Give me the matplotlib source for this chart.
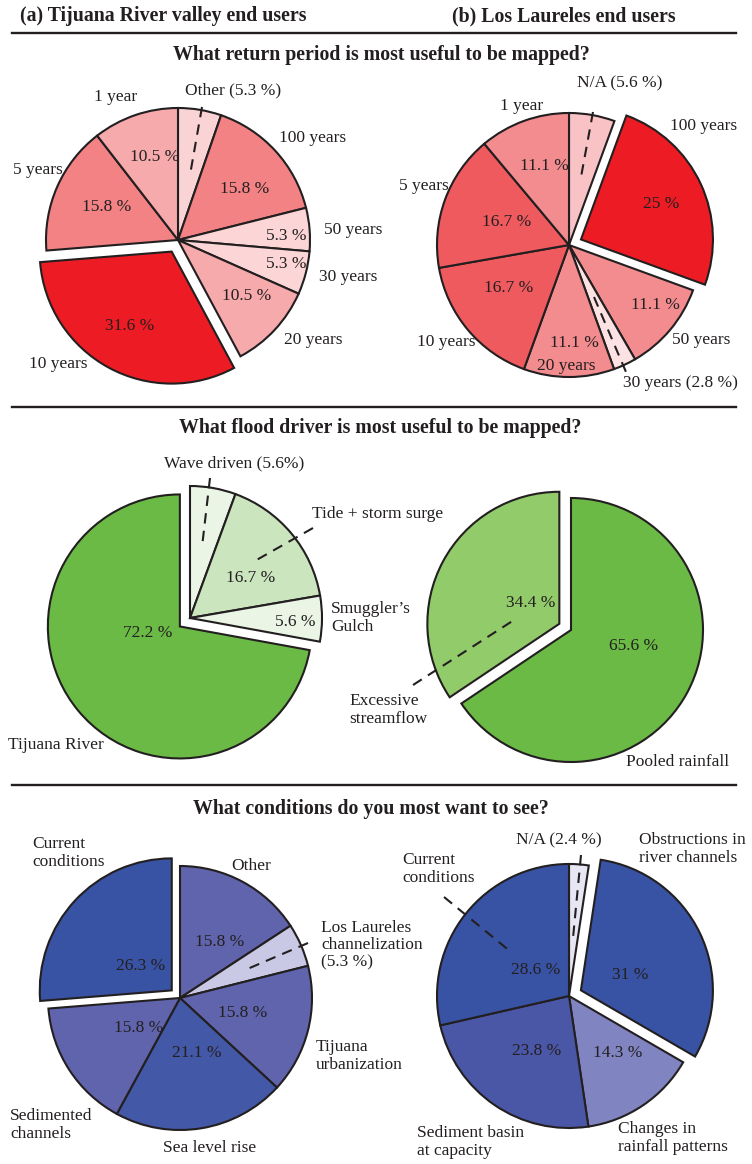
import matplotlib.pyplot as plt

H = 1164
R = 132
plt.rcParams['font.family'] = ['Liberation Serif', 'DejaVu Serif']
EDGE = '#231f20'

# ---- return period, (a) Tijuana River valley
rp_a_cats = ['Other', '100 years', '50 years', '30 years', '20 years', '10 years', '5 years', '1 year']
rp_a_vals = [5.3, 15.8, 5.3, 5.3, 10.5, 31.6, 15.8, 10.5]
rp_a_cols = ['#fad4d5', '#f28284', '#fcd6d7', '#fcd6d7', '#f6aaac', '#ed1c24', '#f28284', '#f6aaac']
rp_a_expl = [0, 0, 0, 0, 0, 0.1, 0, 0]

# ---- return period, (b) Los Laureles
rp_b_cats = ['N/A', '100 years', '50 years', '30 years', '20 years', '10 years', '5 years', '1 year']
rp_b_vals = [5.6, 25, 11.1, 2.8, 11.1, 16.7, 16.7, 11.1]
rp_b_cols = ['#f9c3c6', '#ed1c24', '#f28c8f', '#fde2e3', '#f28c8f', '#ef5a5f', '#ef5a5f', '#f28c8f']
rp_b_expl = [0, 0.1, 0, 0, 0, 0, 0, 0]

# ---- flood driver
fd_a_cats = ['Wave driven', 'Tide + storm surge', "Smuggler's Gulch", 'Tijuana River']
fd_a_vals = [5.6, 16.7, 5.6, 72.2]
fd_a_cols = ['#eaf5e6', '#cbe5bf', '#eaf5e6', '#6aba45']
fd_a_expl = [0, 0, 0, 0.1]

fd_b_cats = ['Pooled rainfall', 'Excessive streamflow']
fd_b_vals = [65.6, 34.4]
fd_b_cols = ['#6aba45', '#92cb6a']
fd_b_expl = [0, 0.1]

# ---- conditions
cd_a_cats = ['Other', 'Los Laureles channelization', 'Tijuana urbanization',
             'Sea level rise', 'Sedimented channels', 'Current conditions']
cd_a_vals = [15.8, 5.3, 15.8, 21.1, 15.8, 26.3]
cd_a_cols = ['#5f64ac', '#c9c9e6', '#5f64ac', '#4358a6', '#5f64ac', '#3953a4']
cd_a_expl = [0, 0, 0, 0, 0, 0.085]

cd_b_cats = ['N/A', 'Obstructions in river channels', 'Changes in rainfall patterns',
             'Sediment basin at capacity', 'Current conditions']
cd_b_vals = [2.4, 31, 14.3, 23.8, 28.6]
cd_b_cols = ['#e6e7f3', '#3953a4', '#8084c0', '#4a57a7', '#3953a4']
cd_b_expl = [0, 0.1, 0, 0, 0]


def fmt(v):
    return f'{v:g} %'


fig = plt.figure(figsize=(7.52, 11.64), dpi=100)
ax = fig.add_axes([0, 0, 1, 1])


def T(x, y, s, **kw):
    kw.setdefault('fontsize', 12.5)
    kw.setdefault('ha', 'center')
    kw.setdefault('va', 'center')
    ax.text(x, H - y, s, color='#231f20', **kw)


def pie(cx, cy, vals, cols, expl, pct_pos):
    # explode is in data units for matplotlib, so scale by radius
    ax.pie(vals, colors=cols, explode=[e * R for e in expl], startangle=90,
           counterclock=False, center=(cx, H - cy), radius=R,
           wedgeprops=dict(edgecolor=EDGE, linewidth=1.5), frame=True)
    for v, p in zip(vals, pct_pos):
        if p is not None:
            T(p[0], p[1], fmt(v))


def dash(x1, y1, x2, y2):
    ax.plot([x1, x2], [H - y1, H - y2], color=EDGE, lw=1.5, ls=(0, (5, 3.5)))


# headers and rules
T(163, 16, '(a) Tijuana River valley end users', fontsize=14.3, fontweight='bold')
T(564, 16, '(b) Los Laureles end users', fontsize=14.3, fontweight='bold')
for yy in [33, 407, 785]:
    ax.plot([12, 736], [H - yy, H - yy], color=EDGE, lw=1.7)
T(381, 55, 'What return period is most useful to be mapped?', fontsize=14.3, fontweight='bold')
T(380, 428, 'What flood driver is most useful to be mapped?', fontsize=14.3, fontweight='bold')
T(371, 809, 'What conditions do you most want to see?', fontsize=14.3, fontweight='bold')

# pie 1
pie(178, 240, rp_a_vals, rp_a_cols, rp_a_expl,
    [None, (245, 189), (286, 236), (286, 264), (247, 296), (130, 326), (107, 207), (155, 157)])
T(233, 90, 'Other (5.3 %)')
T(313, 138, '100 years')
T(353, 230, '50 years')
T(348, 277, '30 years')
T(313, 340, '20 years')
T(58, 364, '10 years')
T(38, 170, '5 years')
T(116, 97, '1 year')
dash(202, 107, 190, 175)

# pie 2
pie(569, 245, rp_b_vals, rp_b_cols, rp_b_expl,
    [None, (661, 204), (655, 305), None, (574, 343), (509, 288), (507, 222), (544, 166)])
T(620, 83, 'N/A (5.6 %)')
T(522, 106, '1 year')
T(704, 126, '100 years')
T(424, 186, '5 years')
T(446, 342, '10 years')
T(701, 340, '50 years')
T(566, 366, '20 years')
T(680, 383, '30 years (2.8 %)')
dash(593, 112, 581, 177)
dash(594, 297, 626, 372)

# pie 3
pie(190, 618, fd_a_vals, fd_a_cols, fd_a_expl,
    [None, (251, 578), (295, 622), (148, 633)])
T(234, 463, 'Wave driven (5.6%)')
T(378, 514, 'Tide + storm surge')
T(331, 618, 'Smuggler\u2019s\nGulch', ha='left', linespacing=1.1)
T(56, 745, 'Tijuana River')
dash(210, 478, 202, 547)
dash(313, 528, 253, 562)

# pie 4
pie(571, 630, fd_b_vals, fd_b_cols, fd_b_expl, [(634, 646), (531, 603)])
T(349, 710, 'Excessive\nstreamflow', ha='left', linespacing=1.1)
T(678, 762, 'Pooled rainfall')
dash(413, 685, 514, 620)

# pie 5
pie(180, 998, cd_a_vals, cd_a_cols, cd_a_expl,
    [(220, 942), None, (243, 1013), (197, 1053), (139, 1028), (141, 966)])
T(32, 853, 'Current\nconditions', ha='left', linespacing=1.1)
T(251, 866, 'Other')
T(321, 945, 'Los Laureles\nchannelization\n(5.3 %)', ha='left', linespacing=1.1)
T(316, 1056, 'Tijuana\nurbanization', ha='left', linespacing=1.1)
T(210, 1148, 'Sea level rise')
T(10, 1125, 'Sedimented\nchannels', ha='left', linespacing=1.1)
dash(308, 943, 245, 970)

# pie 6
pie(569, 996, cd_b_vals, cd_b_cols, cd_b_expl,
    [None, (630, 975), (618, 1053), (537, 1051), (536, 970)])
T(559, 840, 'N/A (2.4 %)')
T(639, 849, 'Obstructions in\nriver channels', ha='left', linespacing=1.1)
T(402, 869, 'Current\nconditions', ha='left', linespacing=1.1)
T(417, 1142, 'Sediment basin\nat capacity', ha='left', linespacing=1.1)
T(618, 1138, 'Changes in\nrainfall patterns', ha='left', linespacing=1.1)
dash(581, 855, 573, 938)
dash(444, 897, 511, 952)

ax.set_xlim(0, 752)
ax.set_ylim(0, H)
ax.set_aspect('equal')
ax.axis('off')
fig.savefig('out.png', dpi=100)
